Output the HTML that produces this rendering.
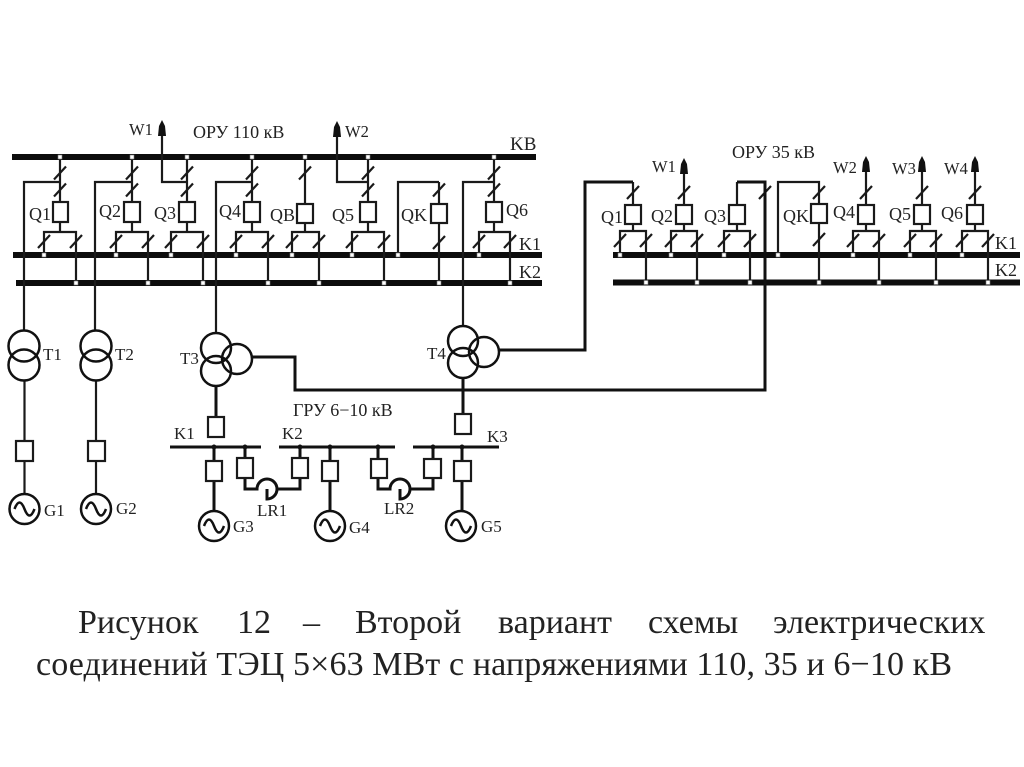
<!DOCTYPE html>
<html><head><meta charset="utf-8"><style>
html,body{margin:0;padding:0;background:#fff}
svg{display:block}
text{font-family:"Liberation Serif","Noto Serif CJK SC",serif;fill:#222}
</style></head><body>
<svg width="1024" height="767" viewBox="0 0 1024 767" xmlns="http://www.w3.org/2000/svg">
<rect width="1024" height="767" fill="#fff"/>
<g style="filter:blur(.35px)">
<!-- buses -->
<g fill="#0d0d0d">
<rect x="12" y="154" width="524" height="6"/>
<rect x="13" y="252" width="529" height="6"/>
<rect x="16" y="280" width="526" height="6"/>
<rect x="613" y="252" width="407" height="6"/>
<rect x="613" y="279.500" width="407" height="6"/>
</g>
<!-- thin wiring -->
<g fill="none" stroke="#1a1a1a" stroke-width="2.200">
<path d="M60 157V202M60 222V232M44 255V232H76V283"/>
<path d="M132 157V202M132 222V232M116 255V232H148V283"/>
<path d="M187 157V202M187 222V232M171 255V232H203V283"/>
<path d="M252 157V202M252 222V232M236 255V232H268V283"/>
<path d="M305 157V204M305 223V232M292 255V232H319V283"/>
<path d="M368 157V202M368 222V232M352 255V232H384V283"/>
<path d="M439 182V204M439 223V283M398 255V182H439"/>
<path d="M494 157V202M494 222V232M479 255V232H510V283"/>
<path d="M24 330V182H60M95 330V182H132M216 333V182H252M463 326V182H494"/>
<path d="M162 135V182H187M337 135V182H368"/>
<!-- right -->
<path d="M633 182V205M633 224V231M620 255V231H646V282"/>
<path d="M684 165V205M684 224V231M671 255V231H697V282"/>
<path d="M737 182V205M737 224V231M724 255V231H750V282"/>
<path d="M778 255V182H819V204M819 223V282"/>
<path d="M866 165V205M866 224V231M853 255V231H879V282"/>
<path d="M922 165V205M922 224V231M910 255V231H936V282"/>
<path d="M975 165V205M975 224V231M962 255V231H988V282"/>
<!-- slashes -->
<path d="M54 179.500l12-13M54 196.500l12-13M126 179.500l12-13M126 196.500l12-13M181 179.500l12-13M181 196.500l12-13M246 179.500l12-13M246 196.500l12-13M299 179.500l12-13M362 179.500l12-13M362 196.500l12-13M433 196.500l12-13M433 249l12-13M488 179.500l12-13M488 196.500l12-13"/>
<path d="M38 248l12-13M70 248l12-13M110 248l12-13M142 248l12-13M165 248l12-13M197 248l12-13M230 248l12-13M262 248l12-13M286 248l12-13M313 248l12-13M346 248l12-13M378 248l12-13M473 248l12-13M504 248l12-13"/>
<path d="M627 199l12-13M678 199l12-13M759 199l12-13M813 199l12-13M860 199l12-13M916 199l12-13M969 199l12-13M813 246l12-13"/>
<path d="M614 247l12-13M640 247l12-13M665 247l12-13M691 247l12-13M718 247l12-13M744 247l12-13M847 247l12-13M873 247l12-13M904 247l12-13M930 247l12-13M956 247l12-13M982 247l12-13"/>
<!-- generator lines -->
<path d="M24.500 380V441M24.500 461V494M96 380V441M96 461V494"/>
</g>
<!-- thick wiring -->
<g fill="none" stroke="#111" stroke-width="3">
<path d="M216 386V417M463 378V414M463 434V390"/>
<path d="M252 357H295V390H765V182H737"/>
<path d="M499 350H585V182H633"/>
<path d="M214 447V461M214 481V511M245 447V458M300 447V458M330 447V461M330 481V511M378 447V459M433 447V459M462 447V461M462 481V511"/>
<path d="M170 447H261M279 447H395M413 447H499"/>
<path d="M245 478V489H257A10 10 0 1 1 267 499V489M277 489H300V478"/>
<path d="M378 478V489H390A10 10 0 1 1 400 499V489M410 489H433V478"/>
</g>
<!-- switch boxes -->
<g fill="#fff" stroke="#1a1a1a" stroke-width="2.200">
<rect x="53" y="202" width="15" height="20"/>
<rect x="124" y="202" width="16" height="20"/>
<rect x="179" y="202" width="16" height="20"/>
<rect x="244" y="202" width="16" height="20"/>
<rect x="297" y="204" width="16" height="19"/>
<rect x="360" y="202" width="16" height="20"/>
<rect x="431" y="204" width="16" height="19"/>
<rect x="486" y="202" width="16" height="20"/>
<rect x="625" y="205" width="16" height="19"/>
<rect x="676" y="205" width="16" height="19"/>
<rect x="729" y="205" width="16" height="19"/>
<rect x="811" y="204" width="16" height="19"/>
<rect x="858" y="205" width="16" height="19"/>
<rect x="914" y="205" width="16" height="19"/>
<rect x="967" y="205" width="16" height="19"/>
<rect x="16" y="441" width="17" height="20"/>
<rect x="88" y="441" width="17" height="20"/>
<rect x="208" y="417" width="16" height="20"/>
<rect x="206" y="461" width="16" height="20"/>
<rect x="237" y="458" width="16" height="20"/>
<rect x="292" y="458" width="16" height="20"/>
<rect x="322" y="461" width="16" height="20"/>
<rect x="371" y="459" width="16" height="19"/>
<rect x="424" y="459" width="17" height="19"/>
<rect x="455" y="414" width="16" height="20"/>
<rect x="454" y="461" width="17" height="20"/>
</g>
<!-- transformers and generators -->
<g fill="none" stroke="#111" stroke-width="2.500">
<circle cx="24" cy="346" r="15.500"/><circle cx="24" cy="365" r="15.500"/>
<circle cx="96" cy="346" r="15.500"/><circle cx="96" cy="365" r="15.500"/>
<circle cx="216" cy="348" r="15"/><circle cx="216" cy="371" r="15"/><circle cx="237" cy="359" r="15"/>
<circle cx="463" cy="341" r="15"/><circle cx="463" cy="363" r="15"/><circle cx="484" cy="352" r="15"/>
<circle cx="24.500" cy="509" r="15"/><path d="M14.500 509q5-13 10 0t10 0"/>
<circle cx="96" cy="509" r="15"/><path d="M86 509q5-13 10 0t10 0"/>
<circle cx="214" cy="526" r="15"/><path d="M204 526q5-13 10 0t10 0"/>
<circle cx="330" cy="526" r="15"/><path d="M320 526q5-13 10 0t10 0"/>
<circle cx="461" cy="526" r="15"/><path d="M451 526q5-13 10 0t10 0"/>
</g>
<!-- bus dots -->
<g fill="#fff" stroke="#777" stroke-width=".6">
<rect x="58" y="155" width="4" height="4"/><rect x="130" y="155" width="4" height="4"/><rect x="185" y="155" width="4" height="4"/><rect x="250" y="155" width="4" height="4"/><rect x="303" y="155" width="4" height="4"/><rect x="366" y="155" width="4" height="4"/><rect x="492" y="155" width="4" height="4"/>
<rect x="42" y="253" width="4" height="4"/><rect x="114" y="253" width="4" height="4"/><rect x="169" y="253" width="4" height="4"/><rect x="234" y="253" width="4" height="4"/><rect x="290" y="253" width="4" height="4"/><rect x="350" y="253" width="4" height="4"/><rect x="396" y="253" width="4" height="4"/><rect x="477" y="253" width="4" height="4"/>
<rect x="74" y="281" width="4" height="4"/><rect x="146" y="281" width="4" height="4"/><rect x="201" y="281" width="4" height="4"/><rect x="266" y="281" width="4" height="4"/><rect x="317" y="281" width="4" height="4"/><rect x="382" y="281" width="4" height="4"/><rect x="437" y="281" width="4" height="4"/><rect x="508" y="281" width="4" height="4"/>
<rect x="618" y="253" width="4" height="4"/><rect x="669" y="253" width="4" height="4"/><rect x="722" y="253" width="4" height="4"/><rect x="776" y="253" width="4" height="4"/><rect x="851" y="253" width="4" height="4"/><rect x="908" y="253" width="4" height="4"/><rect x="960" y="253" width="4" height="4"/>
<rect x="644" y="280.500" width="4" height="4"/><rect x="695" y="280.500" width="4" height="4"/><rect x="748" y="280.500" width="4" height="4"/><rect x="817" y="280.500" width="4" height="4"/><rect x="877" y="280.500" width="4" height="4"/><rect x="934" y="280.500" width="4" height="4"/><rect x="986" y="280.500" width="4" height="4"/>
</g>
<!-- junctions on lower buses -->
<g fill="#111">
<circle cx="214" cy="447" r="2.500"/><circle cx="245" cy="447" r="2.500"/><circle cx="300" cy="447" r="2.500"/><circle cx="330" cy="447" r="2.500"/><circle cx="378" cy="447" r="2.500"/><circle cx="433" cy="447" r="2.500"/><circle cx="462" cy="447" r="2.500"/>
<!-- arrows -->
<path d="M162 120l3 6 1 10h-8l1-10zM337 121l3 6 1 10h-8l1-10zM684 158l3 6 1 10h-8l1-10zM866 156l3 6 1 10h-8l1-10zM922 156l3 6 1 10h-8l1-10zM975 156l3 6 1 10h-8l1-10z"/>
</g>
<!-- labels -->
<g font-size="16.500">
<text x="129" y="135">W1</text><text x="193" y="138" font-size="18">ОРУ 110 кВ</text><text x="345" y="137">W2</text>
<text x="652" y="172">W1</text><text x="732" y="158" font-size="18">ОРУ 35 кВ</text><text x="833" y="173">W2</text><text x="892" y="174">W3</text><text x="944" y="174">W4</text>
<text x="293" y="416" font-size="18">ГРУ 6−10 кВ</text>
</g>
<g font-size="18">
<text x="510" y="150" font-size="19">KB</text>
<text x="29" y="220">Q1</text><text x="99" y="217">Q2</text><text x="154" y="219">Q3</text><text x="219" y="217">Q4</text><text x="270" y="221">QB</text><text x="332" y="221">Q5</text><text x="401" y="221">QK</text><text x="506" y="216">Q6</text>
<text x="519" y="250">K1</text><text x="519" y="278">K2</text>
<text x="601" y="223">Q1</text><text x="651" y="222">Q2</text><text x="704" y="222">Q3</text><text x="783" y="222">QK</text><text x="833" y="218">Q4</text><text x="889" y="220">Q5</text><text x="941" y="219">Q6</text>
<text x="995" y="249">K1</text><text x="995" y="276">K2</text>
</g>
<g font-size="17">
<text x="43" y="360">T1</text><text x="115" y="360">T2</text><text x="180" y="364">T3</text><text x="427" y="359">T4</text>
<text x="44" y="516">G1</text><text x="116" y="514">G2</text><text x="233" y="532">G3</text><text x="349" y="533">G4</text><text x="481" y="532">G5</text>
<text x="174" y="439">K1</text><text x="282" y="439">K2</text><text x="487" y="442">K3</text>
<text x="257" y="516">LR1</text><text x="384" y="514">LR2</text>
</g>
<!-- caption -->
<g font-size="34" style="fill:#111">
<text x="78" y="633">Рисунок</text><text x="237" y="633">12</text><text x="303" y="633">–</text><text x="355" y="633">Второй</text><text x="498" y="633">вариант</text><text x="648" y="633">схемы</text><text x="773" y="633">электрических</text>
<text x="36" y="675" textLength="916" lengthAdjust="spacing">соединений ТЭЦ 5×63 МВт с напряжениями 110, 35 и 6−10 кВ</text>
</g>
</g>
</svg>
</body></html>
